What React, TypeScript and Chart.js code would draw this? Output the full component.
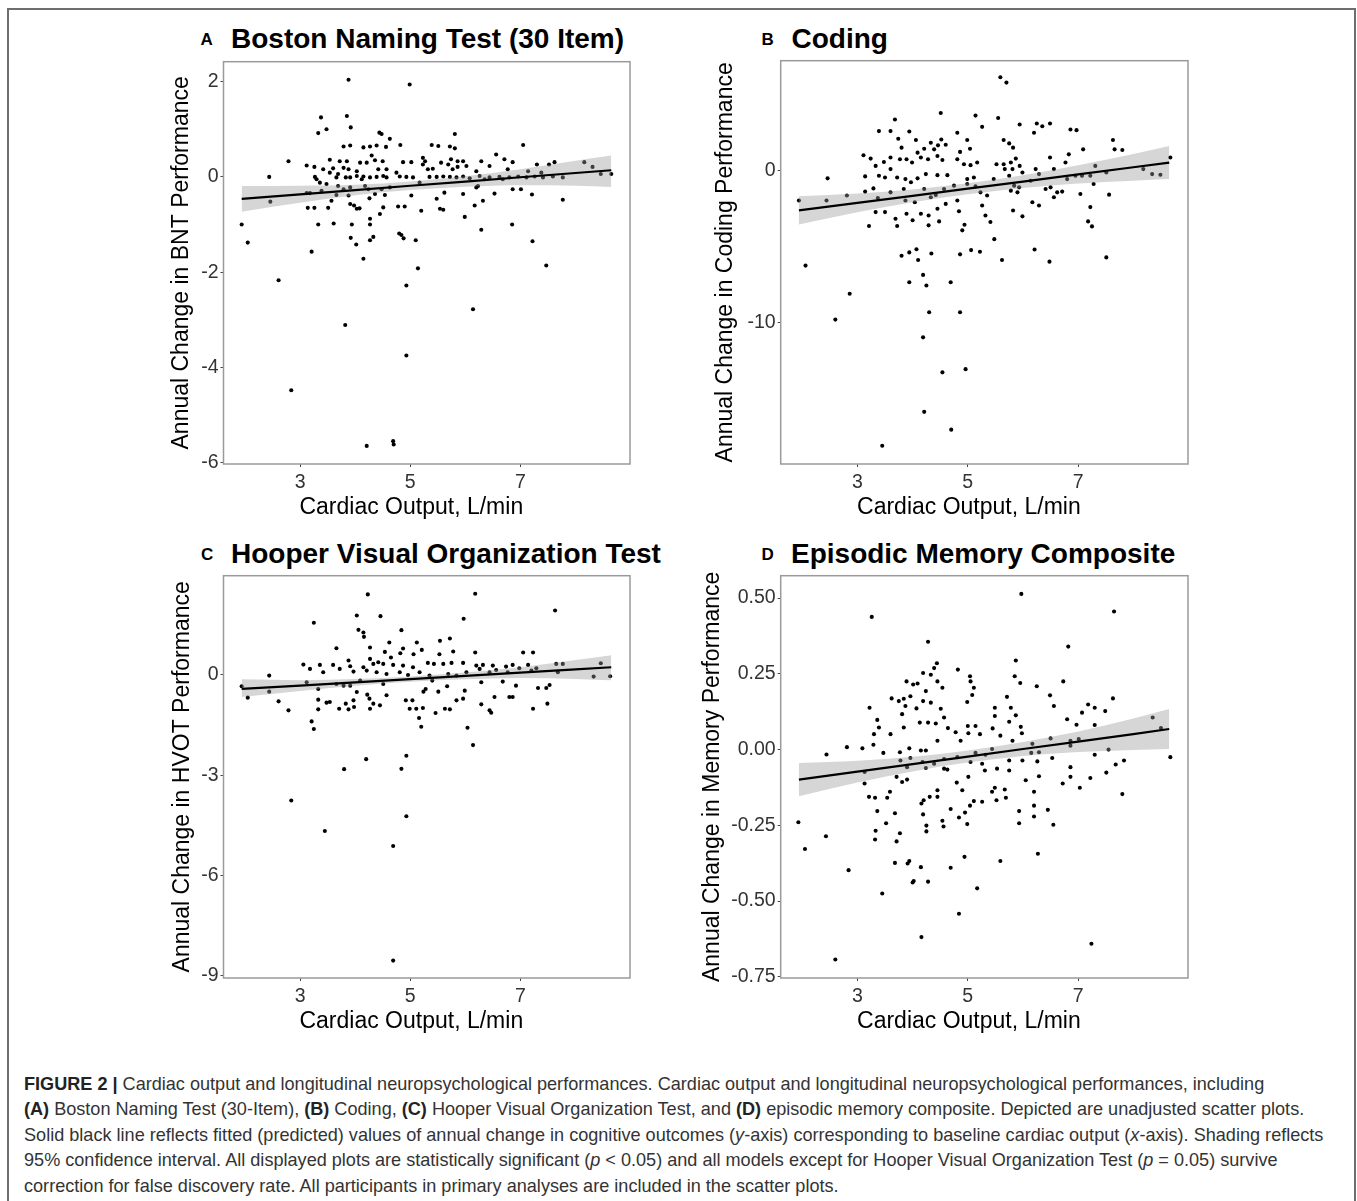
import React, { useEffect, useRef } from "react";
import { Chart, registerables } from "chart.js";

Chart.register(...registerables);

const FONT = "'Liberation Sans', Arial, Helvetica, sans-serif";

// shared x axis
const xTicks = [3, 5, 7];
const xMin = 1.61;
const xMax = 8.99;
const xTitle = "Cardiac Output, L/min";

// fitted line / CI sample positions (x)
const fitX = [1.94, 3, 4, 5, 6, 7, 8, 8.65];

// ---------- Panel A : Boston Naming Test ----------
const aPoints: number[][] = [
  [3.88, 2.04], [4.99, 1.94], [3.38, 1.25], [3.85, 1.28], [3.48, 1.0], [3.33, 0.92], [3.92, 1.04], [4.44, 0.93],
  [4.48, 0.9], [4.63, 0.8], [5.81, 0.9], [4.82, 0.67], [3.79, 0.64], [3.91, 0.66], [4.15, 0.62], [4.27, 0.64],
  [4.39, 0.66], [4.56, 0.63], [5.39, 0.67], [5.51, 0.65], [5.72, 0.64], [5.81, 0.6], [7.05, 0.67], [6.56, 0.47],
  [6.71, 0.37], [4.3, 0.45], [2.79, 0.33], [3.54, 0.36], [3.72, 0.33], [3.85, 0.33], [4.09, 0.3], [4.21, 0.3],
  [4.36, 0.35], [4.5, 0.33], [4.87, 0.31], [5.02, 0.31], [5.23, 0.4], [5.27, 0.33], [5.56, 0.3], [5.74, 0.37],
  [5.86, 0.33], [5.96, 0.33], [6.29, 0.33], [6.86, 0.31], [7.3, 0.26], [7.52, 0.26], [7.62, 0.31], [8.16, 0.31],
  [8.31, 0.21], [3.12, 0.24], [3.26, 0.21], [3.42, 0.16], [3.6, 0.18], [3.79, 0.19], [3.88, 0.16], [4.03, 0.12],
  [4.42, 0.16], [5.23, 0.26], [5.41, 0.17], [5.77, 0.16], [5.86, 0.21], [6.2, 0.12], [6.44, 0.23], [6.77, 0.16],
  [7.14, 0.12], [2.44, 0.0], [3.27, 0.0], [3.3, -0.05], [3.36, -0.12], [3.48, -0.15], [3.66, -0.01], [3.83, -0.01],
  [3.91, -0.01], [4.03, 0.02], [4.15, 0.01], [4.27, -0.01], [4.39, 0], [4.51, 0.02], [4.57, -0.01], [4.81, 0.01],
  [4.93, 0], [5.05, -0.01], [5.35, 0], [5.48, 0], [5.6, 0.01], [5.72, 0], [5.84, -0.01], [5.96, 0.01],
  [6.08, -0.03], [6.26, 0.02], [6.44, -0.01], [6.62, 0], [6.8, -0.01], [6.96, 0.01], [7.11, -0.01], [7.26, 0.01],
  [7.41, -0.01], [7.59, 0.01], [7.77, -0.01], [8.46, 0.06], [8.65, 0.06], [2.46, -0.52], [1.94, -1.0], [2.05, -1.38],
  [2.61, -2.17], [2.84, -4.48], [3.12, -0.34], [3.14, -0.65], [3.26, -0.65], [3.21, -1.57], [3.33, -1.0], [3.51, -0.65],
  [3.57, -0.5], [3.61, -0.98], [3.66, -0.38], [3.79, -0.26], [3.82, -3.11], [3.88, -0.39], [3.91, -0.57], [3.94, -1.0],
  [3.92, -1.28], [3.98, -0.6], [4.02, -1.42], [4.03, -0.67], [4.08, -0.66], [4.15, -1.72], [4.21, -5.65], [4.24, -0.26],
  [4.26, -0.45], [4.27, -0.88], [4.27, -1.0], [4.27, -1.33], [4.33, -1.26], [4.36, -0.36], [4.45, -0.78], [4.51, -0.64],
  [4.54, -0.38], [4.69, -5.55], [4.7, -5.62], [4.78, -0.62], [4.8, -1.19], [4.84, -1.22], [4.88, -1.29], [4.9, -0.62],
  [4.93, -3.75], [4.93, -2.28], [5.02, -0.39], [5.1, -1.33], [5.14, -1.92], [5.2, -0.71], [5.48, -0.46], [5.54, -0.67],
  [5.6, -0.69], [5.62, -0.33], [5.96, -0.36], [5.99, -0.84], [6.14, -2.78], [6.17, -0.6], [6.2, -0.22], [6.29, -1.11],
  [6.32, -0.5], [6.53, -0.35], [6.85, -1.0], [6.86, -0.26], [7.01, -0.26], [7.21, -0.37], [7.22, -1.35], [7.47, -1.86],
  [7.77, -0.48], [3.54, 0.09], [3.69, 0.06], [4.12, -0.05], [4.18, -0.19], [4.48, -0.26], [4.63, -0.22], [4.75, 0.09],
  [5.17, -0.12], [5.32, 0.16], [5.69, 0.26], [6.02, 0.23], [6.23, -0.19], [6.35, -0.05], [6.68, -0.05], [7.38, 0.09],
  [3.91, -0.22], [3.69, -0.19], [3.39, -0.29], [3.18, -0.34], [4.57, 0.16],
];
const aFit = [-0.46, -0.365, -0.276, -0.186, -0.097, -0.007, 0.082, 0.14];
const aUpper = [-0.19, -0.185, -0.166, -0.096, 0.013, 0.163, 0.342, 0.45];
const aLower = [-0.73, -0.545, -0.386, -0.276, -0.207, -0.177, -0.185, -0.21];
const aYTicks = [2, 0, -2, -4, -6];

// ---------- Panel B : Coding ----------
const bPoints: number[][] = [
  [5.59, 6.11], [5.7, 5.76], [4.51, 3.76], [5.14, 3.59], [5.55, 3.43], [3.68, 3.33], [5.26, 2.85], [5.94, 3.0],
  [6.49, 3.07], [6.25, 3.07], [6.35, 2.89], [6.2, 2.46], [6.86, 2.67], [6.97, 2.63], [3.39, 2.57], [3.6, 2.57],
  [3.94, 2.54], [4.81, 2.46], [3.74, 2.07], [4.06, 1.98], [4.33, 1.8], [4.52, 2.02], [4.6, 1.67], [4.99, 1.98],
  [5.65, 1.98], [5.75, 1.76], [5.82, 1.48], [7.63, 1.98], [7.66, 1.37], [7.8, 1.33], [7.09, 1.37], [8.67, 0.83],
  [3.8, 1.48], [4.21, 1.41], [4.46, 1.63], [4.39, 1.37], [5.04, 1.41], [4.86, 1.2], [3.11, 0.98], [3.24, 0.76],
  [3.6, 0.83], [3.48, 0.54], [3.77, 0.72], [3.89, 0.72], [3.99, 0.5], [4.09, 1.15], [4.15, 0.83], [4.28, 0.72],
  [4.45, 0.93], [4.54, 0.67], [4.81, 0.72], [4.93, 0.39], [5.05, 0.33], [5.17, 0.5], [5.52, 0.39], [5.67, 0.07],
  [5.78, 0.5], [5.87, 0.76], [5.94, 0.28], [6.49, 0.83], [6.77, 0.5], [6.83, 1.04], [7.31, 0.28], [8.18, 0.07],
  [3.33, 0.28], [3.6, 0.07], [3.14, -0.41], [3.39, -0.37], [3.5, -0.48], [3.72, -0.48], [3.87, -0.59], [3.97, -0.8],
  [4.09, -0.54], [4.24, -0.26], [4.45, -0.33], [4.63, -0.33], [4.75, -1.02], [4.99, -0.59], [5.11, -0.48], [5.14, -1.07],
  [5.47, -0.59], [5.75, -0.37], [5.84, -1.02], [5.99, -0.15], [6.23, 0.07], [6.29, -0.26], [6.5, -1.13], [6.56, 0.07],
  [6.8, -0.59], [6.95, -0.37], [7.07, -0.37], [7.22, -0.37], [7.28, -0.91], [7.51, -0.15], [8.34, -0.26], [2.46, -0.54],
  [1.94, -2.0], [2.44, -2.0], [2.81, -1.67], [2.06, -6.28], [2.6, -9.83], [2.86, -8.13], [3.14, -1.41], [3.21, -3.67],
  [3.29, -1.2], [3.33, -2.76], [3.37, -1.83], [3.45, -18.13], [3.5, -2.76], [3.6, -1.46], [3.69, -3.2], [3.72, -3.67],
  [3.8, -5.63], [3.87, -2.0], [3.89, -2.87], [3.94, -5.41], [3.94, -7.37], [4.0, -3.3], [4.04, -2.11], [4.07, -5.2],
  [4.1, -5.91], [4.15, -2.87], [4.19, -6.89], [4.19, -11.0], [4.21, -15.9], [4.25, -7.59], [4.29, -2.98], [4.29, -3.63],
  [4.3, -9.35], [4.34, -5.48], [4.45, -2.54], [4.48, -3.37], [4.54, -13.3], [4.6, -2.22], [4.69, -7.37], [4.7, -17.07],
  [4.81, -2.0], [4.84, -2.7], [4.86, -5.54], [4.86, -9.35], [4.9, -3.96], [4.94, -3.59], [4.96, -13.09], [5.06, -5.26],
  [5.22, -5.37], [5.26, -2.33], [5.32, -2.98], [5.41, -3.41], [5.48, -4.54], [5.62, -5.91], [5.82, -2.65], [5.99, -3.04],
  [6.17, -2.11], [6.21, -5.22], [6.29, -2.33], [6.48, -6.02], [6.56, -1.78], [6.71, -1.41], [7.04, -1.57], [7.22, -2.43],
  [7.18, -3.37], [7.25, -3.7], [7.51, -5.74], [7.56, -1.61], [8.49, -0.3], [3.84, -1.24], [4.21, -1.24], [4.33, -1.78],
  [4.42, -1.63], [4.57, -1.24], [4.99, -0.91], [5.23, -1.46], [5.35, -1.67], [5.78, -1.35], [5.9, -1.46], [6.14, -0.7],
  [6.41, -1.24], [6.62, -1.46], [5.65, 0.39], [5.81, 0.07], [5.93, -1.13],
];
const bFit = [-2.65, -2.15, -1.69, -1.22, -0.75, -0.28, 0.19, 0.5];
const bUpper = [-1.72, -1.53, -1.27, -0.86, -0.33, 0.32, 1.07, 1.59];
const bLower = [-3.58, -2.77, -2.11, -1.58, -1.17, -0.88, -0.69, -0.59];
const bYTicks = [0, -10];

// ---------- Panel C : Hooper Visual Organization Test ----------
const cPoints: number[][] = [
  [4.23, 2.41], [6.18, 2.43], [7.63, 1.93], [4.03, 1.78], [4.46, 1.76], [5.97, 1.68], [3.25, 1.56], [4.06, 1.35],
  [4.15, 1.27], [4.16, 1.14], [4.84, 1.34], [5.54, 1.02], [5.72, 1.09], [4.62, 0.97], [5.12, 0.97], [3.66, 0.8],
  [4.27, 0.82], [4.87, 0.79], [5.21, 0.75], [4.54, 0.69], [4.82, 0.65], [5.06, 0.62], [5.53, 0.62], [5.78, 0.7],
  [6.18, 0.67], [7.05, 0.67], [7.23, 0.67], [4.27, 0.48], [4.42, 0.38], [4.65, 0.52], [3.88, 0.43], [3.06, 0.31],
  [3.36, 0.3], [3.6, 0.3], [3.91, 0.26], [4.15, 0.23], [4.33, 0.33], [4.51, 0.33], [4.69, 0.3], [4.87, 0.28],
  [5.05, 0.23], [5.32, 0.36], [5.43, 0.33], [5.6, 0.33], [5.75, 0.36], [5.96, 0.36], [6.2, 0.28], [6.32, 0.3],
  [6.5, 0.28], [6.74, 0.25], [6.86, 0.3], [6.98, 0.2], [7.14, 0.3], [7.29, 0.2], [7.65, 0.33], [7.77, 0.33],
  [8.46, 0.35], [3.18, 0.18], [3.42, 0.08], [3.72, 0.18], [3.97, 0.1], [4.21, 0.13], [4.39, 0.08], [4.57, 0.03],
  [4.81, 0.08], [4.96, 0], [5.17, 0.08], [5.35, -0.02], [5.69, 0.03], [5.84, -0.02], [6.02, 0.08], [6.26, 0.18],
  [6.44, 0.08], [6.56, 0.15], [6.77, 0.08], [7.2, 0.13], [7.68, 0.08], [8.33, -0.05], [8.63, -0.04], [2.44, -0.02],
  [1.94, -0.34], [2.05, -0.68], [2.44, -0.5], [2.61, -0.79], [2.79, -1.06], [2.84, -3.76], [3.12, -0.22], [3.21, -1.39],
  [3.25, -1.62], [3.33, -0.42], [3.33, -0.74], [3.33, -1.03], [3.45, -4.67], [3.48, -0.83], [3.54, -0.81], [3.66, -0.27],
  [3.71, -1.01], [3.79, -0.32], [3.8, -2.82], [3.83, -0.86], [3.88, -1.03], [3.91, -0.32], [3.97, -0.76], [3.98, -0.96],
  [4.03, -0.51], [4.09, -0.17], [4.2, -2.52], [4.22, -0.59], [4.26, -0.71], [4.27, -1.01], [4.33, -0.86], [4.45, -0.91],
  [4.51, -0.27], [4.57, -0.61], [4.69, -5.12], [4.84, -2.81], [4.92, -0.76], [4.93, -2.42], [4.93, -4.23], [4.69, -8.55],
  [4.99, -1.01], [5.04, -0.76], [5.11, -1.01], [5.16, -1.29], [5.2, -1.55], [5.23, -0.99], [5.24, -0.5], [5.28, -0.42],
  [5.4, -0.17], [5.46, -1.14], [5.51, -0.5], [5.63, -1.01], [5.67, -0.34], [5.72, -1.03], [5.84, -0.76], [5.96, -0.71],
  [5.99, -0.47], [6.04, -1.58], [6.14, -2.1], [6.29, -0.22], [6.29, -0.88], [6.44, -1.06], [6.47, -1.13], [6.53, -0.66],
  [6.68, -0.2], [6.8, -0.66], [6.86, -0.66], [6.92, -0.32], [7.23, -1.01], [7.32, -0.39], [7.47, -0.39], [7.49, -0.86],
  [7.53, -0.3],
];
const cFit = [-0.42, -0.317, -0.22, -0.123, -0.027, 0.07, 0.167, 0.23];
const cUpper = [-0.13, -0.157, -0.12, -0.043, 0.073, 0.23, 0.447, 0.59];
const cLower = [-0.66, -0.477, -0.32, -0.203, -0.127, -0.09, -0.12, -0.16];
const cYTicks = [0, -3, -6, -9];

// ---------- Panel D : Episodic Memory Composite ----------
const dPoints: number[][] = [
  [5.97, 0.514], [7.65, 0.456], [3.26, 0.438], [4.28, 0.356], [6.82, 0.34], [5.87, 0.294], [4.44, 0.285], [4.39, 0.269],
  [4.82, 0.264], [4.19, 0.253], [4.33, 0.247], [5.04, 0.242], [5.85, 0.242], [3.89, 0.225], [4.45, 0.225], [6.73, 0.225],
  [5.95, 0.22], [5.05, 0.225], [4.01, 0.215], [4.09, 0.218], [6.25, 0.209], [5.11, 0.204], [4.54, 0.204], [4.24, 0.193],
  [5.08, 0.18], [3.96, 0.176], [5.71, 0.174], [6.49, 0.179], [7.63, 0.169], [3.62, 0.169], [3.75, 0.16], [3.84, 0.168],
  [4.19, 0.16], [4.33, 0.155], [4.99, 0.157], [3.87, 0.144], [3.22, 0.138], [4.07, 0.136], [4.51, 0.135], [6.56, 0.144],
  [7.18, 0.149], [7.3, 0.138], [7.49, 0.127], [5.78, 0.138], [5.49, 0.138], [7.07, 0.122], [8.35, 0.106], [4.57, 0.106],
  [5.49, 0.111], [5.87, 0.113], [3.36, 0.098], [3.81, 0.117], [6.8, 0.1], [4.13, 0.089], [4.28, 0.089], [4.42, 0.086],
  [5.75, 0.092], [6.97, 0.082], [7.3, 0.081], [3.39, 0.073], [4.64, 0.071], [5.0, 0.078], [5.14, 0.078], [5.45, 0.07],
  [5.96, 0.075], [8.5, 0.071], [3.84, 0.073], [3.6, 0.051], [3.3, 0.051], [4.78, 0.057], [5.01, 0.054], [5.22, 0.051],
  [5.59, 0.046], [5.98, 0.054], [6.5, 0.037], [4.87, 0.029], [4.45, 0.029], [5.81, 0.029], [6.17, 0.019], [6.86, 0.029],
  [7.01, 0.035], [3.29, 0.016], [2.81, 0.008], [3.09, 0.004], [3.77, -0.009], [3.94, 0.004], [4.15, -0.003], [4.24, -0.003],
  [5.14, -0.011], [5.32, -0.017], [5.44, 0.002], [6.15, -0.011], [6.29, -0.009], [6.86, 0.013], [7.55, 0], [7.3, -0.017],
  [2.44, -0.016], [3.47, -0.011], [3.78, -0.036], [3.96, -0.028], [4.18, -0.041], [4.39, -0.047], [4.57, -0.031], [4.81, -0.025],
  [5.05, -0.041], [5.26, -0.047], [5.53, -0.063], [5.75, -0.036], [5.99, -0.036], [6.26, -0.039], [6.53, -0.028], [7.83, -0.036],
  [8.67, -0.025], [7.68, -0.049], [3.9, -0.058], [4.24, -0.061], [4.57, -0.063], [4.63, -0.066], [5.31, -0.069], [5.75, -0.069],
  [6.86, -0.058], [3.13, -0.074], [7.51, -0.076], [3.71, -0.09], [3.9, -0.099], [3.81, -0.107], [5.01, -0.09], [6.05, -0.101],
  [6.86, -0.09], [6.29, -0.088], [7.22, -0.094], [6.72, -0.112], [3.13, -0.112], [4.8, -0.109], [7.03, -0.126], [4.45, -0.134],
  [4.9, -0.134], [5.49, -0.126], [5.67, -0.132], [6.2, -0.139], [7.8, -0.147], [3.59, -0.139], [5.44, -0.139], [3.21, -0.156],
  [3.32, -0.159], [3.54, -0.159], [4.2, -0.167], [4.31, -0.156], [4.45, -0.156], [5.11, -0.17], [5.26, -0.172], [5.52, -0.167],
  [5.69, -0.159], [6.2, -0.185], [5.04, -0.185], [4.16, -0.178], [3.36, -0.203], [4.69, -0.196], [3.68, -0.21], [4.19, -0.214],
  [4.95, -0.208], [5.93, -0.203], [6.45, -0.199], [4.84, -0.224], [6.2, -0.221], [4.54, -0.235], [3.52, -0.243], [1.93, -0.24],
  [4.99, -0.246], [5.93, -0.243], [6.55, -0.248], [4.25, -0.251], [4.56, -0.254], [3.33, -0.268], [4.25, -0.27], [2.43, -0.286],
  [3.77, -0.276], [3.32, -0.297], [3.71, -0.303], [2.05, -0.328], [6.27, -0.344], [4.94, -0.354], [5.59, -0.368], [3.68, -0.374],
  [3.94, -0.368], [3.91, -0.376], [4.15, -0.388], [4.69, -0.39], [2.84, -0.398], [4.02, -0.434], [4.0, -0.439], [4.28, -0.436],
  [3.45, -0.475], [5.17, -0.458], [4.84, -0.542], [4.16, -0.619], [7.24, -0.641], [2.6, -0.693],
];
const dFit = [-0.099, -0.073, -0.048, -0.023, 0.002, 0.026, 0.051, 0.068];
const dUpper = [-0.044, -0.037, -0.024, -0.003, 0.025, 0.06, 0.103, 0.134];
const dLower = [-0.154, -0.109, -0.072, -0.043, -0.021, -0.008, -0.001, 0.002];
const dYTicks = [0.5, 0.25, 0, -0.25, -0.5, -0.75];

type PanelDef = {
  letter: string;
  title: string;
  yTitle: string;
  points: number[][];
  fit: number[];
  upper: number[];
  lower: number[];
  yTicks: number[];
  yMin: number;
  yMax: number;
  decimals: number;
  L: number; R: number; T: number; B: number;
  yTitleX: number;
  letterX: number; titleX: number; titleCY: number;
};

const panels: PanelDef[] = [
  {
    letter: "A", title: "Boston Naming Test (30 Item)", yTitle: "Annual Change in BNT Performance",
    points: aPoints, fit: aFit, upper: aUpper, lower: aLower, yTicks: aYTicks, yMin: -6.03, yMax: 2.42, decimals: 0,
    L: 223.5, R: 630, T: 58, B: 464, yTitleX: 181.7, letterX: 200.5, titleX: 231, titleCY: 39,
  },
  {
    letter: "B", title: "Coding", yTitle: "Annual Change in Coding Performance",
    points: bPoints, fit: bFit, upper: bUpper, lower: bLower, yTicks: bYTicks, yMin: -19.33, yMax: 7.2, decimals: 0,
    L: 780.7, R: 1188, T: 57.5, B: 464, yTitleX: 726, letterX: 761.5, titleX: 791.5, titleCY: 39,
  },
  {
    letter: "C", title: "Hooper Visual Organization Test", yTitle: "Annual Change in HVOT Performance",
    points: cPoints, fit: cFit, upper: cUpper, lower: cLower, yTicks: cYTicks, yMin: -9.07, yMax: 2.97, decimals: 0,
    L: 223.5, R: 630, T: 572.5, B: 978, yTitleX: 183, letterX: 201, titleX: 231, titleCY: 554,
  },
  {
    letter: "D", title: "Episodic Memory Composite", yTitle: "Annual Change in Memory Performance",
    points: dPoints, fit: dFit, upper: dUpper, lower: dLower, yTicks: dYTicks, yMin: -0.754, yMax: 0.574, decimals: 2,
    L: 780.7, R: 1188, T: 572, B: 978, yTitleX: 713, letterX: 761.5, titleX: 791, titleCY: 554,
  },
];

const boxPlugin = {
  id: "panelBox",
  afterDraw(chart: any) {
    const { ctx, chartArea } = chart;
    ctx.save();
    ctx.strokeStyle = "#9a9a9a";
    ctx.lineWidth = 1.5;
    ctx.strokeRect(chartArea.left, chartArea.top, chartArea.right - chartArea.left, chartArea.bottom - chartArea.top);
    ctx.restore();
  },
};

const xTitlePlugin = {
  id: "xTitleAt5",
  afterDraw(chart: any) {
    const { ctx, chartArea } = chart;
    const xs = chart.scales.x;
    ctx.save();
    ctx.font = `23px ${FONT}`;
    ctx.fillStyle = "#000";
    ctx.textAlign = "center";
    ctx.textBaseline = "alphabetic";
    ctx.fillText(xTitle, xs.getPixelForValue(5.02), chartArea.bottom + 50);
    ctx.restore();
  },
};

function Panel({ def }: { def: PanelDef }) {
  const ref = useRef<HTMLCanvasElement>(null);
  const cl = Math.floor(def.L - 100);
  const ct = Math.floor(def.T - 10);
  const cr = Math.ceil(def.R + 8);
  const cb = Math.ceil(def.B + 62);
  const w = cr - cl;
  const h = cb - ct;

  useEffect(() => {
    if (!ref.current) return;
    const padTop = def.T - ct;
    const padRight = cr - def.R;
    const yAxisW = def.L - cl;
    const xAxisH = cb - def.B;
    const titleFontSize = 23;
    const titlePad = def.yTitleX - cl - (titleFontSize * 1.2) / 2;
    const tickFont = { family: FONT, size: 19.5 };

    const chart = new Chart(ref.current, {
      type: "scatter",
      data: {
        datasets: [
          {
            type: "line",
            data: fitX.map((x, i) => ({ x, y: def.fit[i] })),
            borderColor: "#000",
            borderWidth: 2.2,
            pointRadius: 0,
            fill: false,
            tension: 0,
            order: 0,
          } as any,
          {
            type: "line",
            data: fitX.map((x, i) => ({ x, y: def.upper[i] })),
            borderWidth: 0,
            borderColor: "rgba(0,0,0,0)",
            backgroundColor: "rgba(153,153,153,0.4)",
            pointRadius: 0,
            fill: "+1",
            tension: 0.4,
            cubicInterpolationMode: "monotone",
            order: 1,
          } as any,
          {
            type: "line",
            data: fitX.map((x, i) => ({ x, y: def.lower[i] })),
            borderWidth: 0,
            borderColor: "rgba(0,0,0,0)",
            pointRadius: 0,
            fill: false,
            tension: 0.4,
            cubicInterpolationMode: "monotone",
            order: 1,
          } as any,
          {
            type: "scatter",
            data: def.points.map((p) => ({ x: p[0], y: p[1] })),
            backgroundColor: "#000",
            borderWidth: 0,
            pointRadius: 2.05,
            order: 2,
          } as any,
        ],
      },
      options: {
        animation: false,
        responsive: false,
        maintainAspectRatio: false,
        events: [],
        layout: { padding: { left: 0, top: padTop, right: padRight, bottom: 0 } },
        plugins: { legend: { display: false }, tooltip: { enabled: false }, title: { display: false } },
        scales: {
          x: {
            type: "linear",
            min: xMin,
            max: xMax,
            afterBuildTicks: (s: any) => {
              s.ticks = xTicks.map((v) => ({ value: v }));
            },
            afterFit: (s: any) => {
              s.height = xAxisH;
            },
            grid: { display: true, drawOnChartArea: false, drawTicks: true, tickLength: 3, color: "#444", lineWidth: 1 },
            border: { display: false },
            ticks: {
              font: tickFont,
              color: "#333",
              padding: 3.5,
              maxRotation: 0,
              autoSkip: false,
              callback: (v: any) => String(v),
            },
          },
          y: {
            type: "linear",
            min: def.yMin,
            max: def.yMax,
            afterBuildTicks: (s: any) => {
              s.ticks = def.yTicks.map((v) => ({ value: v }));
            },
            afterFit: (s: any) => {
              s.width = yAxisW;
            },
            grid: { display: true, drawOnChartArea: false, drawTicks: true, tickLength: 3, color: "#444", lineWidth: 1 },
            border: { display: false },
            title: {
              display: true,
              text: def.yTitle,
              color: "#000",
              font: { family: FONT, size: titleFontSize },
              padding: { top: titlePad, bottom: 0 },
            },
            ticks: {
              font: tickFont,
              color: "#333",
              padding: 2,
              autoSkip: false,
              callback: (v: any) => (def.decimals ? Number(v).toFixed(def.decimals) : String(v)),
            },
          },
        },
      } as any,
      plugins: [boxPlugin, xTitlePlugin],
    });
    return () => chart.destroy();
  }, []);

  return (
    <canvas
      ref={ref}
      width={w}
      height={h}
      style={{ position: "absolute", left: cl, top: ct, width: w, height: h }}
    />
  );
}

const captionLines: React.ReactNode[] = [
  <>
    <b style={{ color: "#222" }}>FIGURE 2 |</b> Cardiac output and longitudinal neuropsychological performances. Cardiac output and longitudinal neuropsychological performances, including
  </>,
  <>
    <b style={{ color: "#222" }}>(A)</b> Boston Naming Test (30-Item), <b style={{ color: "#222" }}>(B)</b> Coding, <b style={{ color: "#222" }}>(C)</b> Hooper Visual Organization Test, and <b style={{ color: "#222" }}>(D)</b> episodic memory composite. Depicted are unadjusted scatter plots.
  </>,
  <>
    Solid black line reflects fitted (predicted) values of annual change in cognitive outcomes (<i>y</i>-axis) corresponding to baseline cardiac output (<i>x</i>-axis). Shading reflects
  </>,
  <>
    95% confidence interval. All displayed plots are statistically significant (<i>p</i> &lt; 0.05) and all models except for Hooper Visual Organization Test (<i>p</i> = 0.05) survive
  </>,
  <>correction for false discovery rate. All participants in primary analyses are included in the scatter plots.</>,
];

export default function App() {
  return (
    <div style={{ position: "absolute", left: 0, top: 0, width: 1357, height: 1201, overflow: "hidden", background: "#fff" }}>
      <div
        style={{
          position: "absolute",
          left: 7,
          top: 8,
          width: 1349,
          height: 1193,
          boxSizing: "border-box",
          border: "2px solid #6e6e6e",
          borderBottom: "none",
        }}
      />
      {panels.map((p) => (
        <React.Fragment key={p.letter}>
          <div
            style={{
              position: "absolute",
              left: p.letterX,
              top: p.titleCY - 0.4885 * 17,
              font: `bold 17px ${FONT}`,
              lineHeight: 1,
              color: "#000",
              whiteSpace: "nowrap",
            }}
          >
            {p.letter}
          </div>
          <div
            style={{
              position: "absolute",
              left: p.titleX,
              top: p.titleCY - 0.4885 * 28,
              font: `bold 28px ${FONT}`,
              lineHeight: 1,
              color: "#000",
              whiteSpace: "nowrap",
            }}
          >
            {p.title}
          </div>
          <Panel def={p} />
        </React.Fragment>
      ))}
      <div
        style={{
          position: "absolute",
          left: 24,
          top: 1072,
          font: `18.1px ${FONT}`,
          lineHeight: "25.4px",
          color: "#333",
          whiteSpace: "nowrap",
        }}
      >
        {captionLines.map((l, i) => (
          <div key={i}>{l}</div>
        ))}
      </div>
    </div>
  );
}
